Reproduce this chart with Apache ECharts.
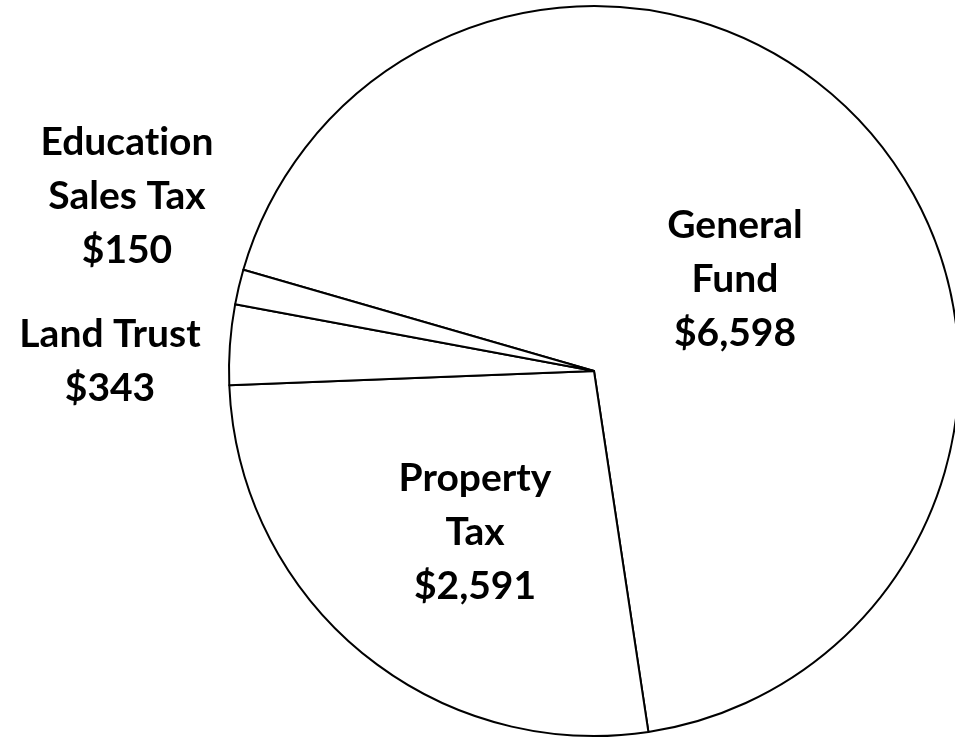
<!DOCTYPE html>
<html>
<head>
<meta charset="utf-8">
<title>Revenue pie</title>
<script src="https://cdn.jsdelivr.net/npm/echarts@6/dist/echarts.min.js"></script>
<style>
    html, body {
        margin: 0;
        padding: 0;
        background: #fff;
    }

    #chart {
        width: 955px;
        height: 738px;
    }
</style>
</head>
<body>
<div id="chart"></div>
<script>
// slice names (line breaks as drawn) and values
const categories = ["General\nFund", "Property\nTax", "Land Trust", "Education\nSales Tax"];
const values = [6598, 2591, 343, 150];

// where each label sits (centre of the text block)
const labelPos = [
    [735, 279],
    [475, 532],
    [110, 361],
    [127, 196],
];

const chart = echarts.init(document.getElementById("chart"));

chart.setOption({
    animation: false,
    series: [
        {
            type: "pie",
            center: [594, 371],
            radius: 365,
            startAngle: 163.9,
            clockwise: true,
            silent: true,
            itemStyle: {
                color: "#fff",
                borderColor: "#000",
                borderWidth: 2,
            },
            label: {
                show: true,
                position: "inside",
                fontFamily: "Lato",
                fontWeight: "bold",
                fontSize: 39,
                lineHeight: 54,
                color: "#000",
                align: "center",
                // zero-width non-joiner keeps "ti" from turning into a ligature
                formatter: (p) => p.name.replace("ti", "t\u200Ci") + "\n$" + p.value.toLocaleString("en-US"),
            },
            labelLine: {
                show: false,
            },
            labelLayout: (params) => ({
                x: labelPos[params.dataIndex][0],
                y: labelPos[params.dataIndex][1],
                align: "center",
                verticalAlign: "middle",
            }),
            data: categories.map((name, i) => ({ name, value: values[i] })),
        },
    ],
});
</script>
</body>
</html>
